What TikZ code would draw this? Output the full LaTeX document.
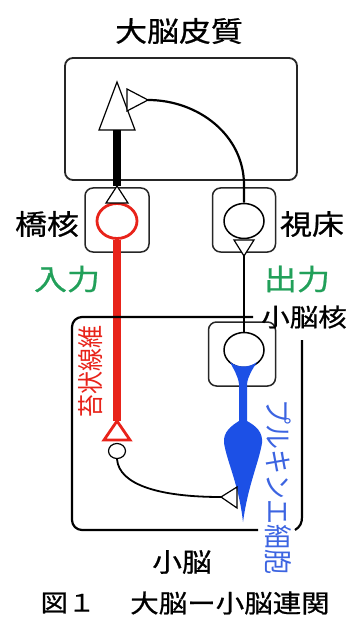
\documentclass[tikz,border=0pt]{standalone}
\usepackage{fontspec}
\setmainfont{Noto Sans CJK JP}
\newfontfamily\medfont{Noto Sans CJK JP}[FakeBold=0.7]
\usetikzlibrary{shapes.geometric}
\definecolor{fibred}{RGB}{232,35,26}
\definecolor{pcblue}{RGB}{28,80,230}
\definecolor{pctext}{RGB}{60,100,225}
\definecolor{iogreen}{RGB}{34,160,90}

\begin{document}
\begin{tikzpicture}[x=1pt,y=-1pt,line join=round]
\tikzstyle{region}=[draw=black!85,line width=1.5pt,rounded corners=8pt,inner sep=0pt]
\tikzstyle{soma}=[draw,ellipse,fill=white,minimum width=40pt,minimum height=35pt,inner sep=0pt,line width=1.5pt]
\tikzstyle{bouton}=[draw,fill=white,line width=1.2pt,line join=miter]
\tikzstyle{lbl}=[inner sep=0pt,xscale=1.14]
\useasboundingbox (0,0) rectangle (355,617);

% cerebral cortex
\node[lbl,font=\fontsize{28}{28}\medfont] (ctxlbl) at (179,31) {大脳皮質};
\node[region,line width=1.8pt,minimum width=232pt,minimum height=122pt] (ctx) at (181,119) {};
\coordinate (pyr) at (117,130);
\coordinate (ctxT) at (148,100);

% boxes round the nuclei
\node[region,minimum width=64pt,minimum height=64pt] (pnbox) at (117,220) {};
\node[region,minimum width=63pt,minimum height=64pt] (thbox) at (244,220) {};
\node[region,minimum width=67pt,minimum height=64pt] (cnbox) at (242,354) {};

% cell bodies
\node[soma,draw=fibred,line width=2.8pt] (pn) at (117,221) {};
\node[soma] (th) at (244,221) {};
\node[soma] (cn) at (244,350) {};
\node[soma,minimum width=17pt,minimum height=15pt,line width=1.2pt] (gr) at (117,451) {};
\coordinate (pnT) at (117,186);
\coordinate (thT) at (244,256);
\coordinate (mfT) at (117,421);
\coordinate (grT) at (221,497);

% cortex -> pons
\draw[line width=8pt] (pyr) -- (pnT);
\draw[bouton] (117,82) -- (135,130) -- (99,130) -- cycle;
\draw[bouton] (pnT) -- (128,203) -- (106,203) -- cycle;

% mossy fibre
\draw[fibred,line width=8pt] (pn.south) -- (mfT);
\draw[bouton,draw=fibred,line width=2.8pt] (mfT) -- (130,440) -- (104,440) -- cycle;

% thalamus -> cortex
\draw[line width=2.2pt] (th.north) -- (244,185) .. controls (244,135) and (198,100) .. (ctxT);
\draw[bouton] (ctxT) -- (127,111) -- (127,89) -- cycle;

% nucleus -> thalamus
\draw[line width=1.6pt] (thT) -- (cn.north);
\draw[bouton] (234,240) -- (254,240) -- (thT) -- cycle;

% cerebellum outline
\draw[line width=2.2pt,rounded corners=10pt] (253,317) -| (72,530) -- (258,530);
\draw[line width=2.2pt] (302,340) -- (302,517) .. controls (302,523) and (300,527) .. (295,530);

% Purkinje cell
\fill[pcblue] (257,362) .. controls (252,370) and (248,376) .. (247,384) -- (247,421)
  .. controls (256,426) and (263,432) .. (262,443) .. controls (259,462) and (248,485) .. (243,522)
  .. controls (239,485) and (227,462) .. (224,443) .. controls (223,432) and (231,426) .. (239,421)
  -- (239,384) .. controls (238,376) and (234,370) .. (230,362)
  .. controls (238,368) and (249,368) .. (257,362) -- cycle;

% granule cell -> Purkinje cell
\draw[line width=1.8pt] (gr.south) .. controls (119,485) and (160,497) .. (grT);
\draw[bouton] (grT) -- (237,487) -- (237,508) -- cycle;

% labels
\node[lbl,font=\fontsize{28}{28}\medfont] (pnlbl) at (47,224) {橋核};
\node[lbl,font=\fontsize{28}{28}\medfont] (thlbl) at (312,224) {視床};
\node[lbl,iogreen,font=\fontsize{29}{29}\medfont] (inlbl) at (67,279) {入力};
\node[lbl,iogreen,font=\fontsize{29}{29}\medfont] (outlbl) at (297,279) {出力};
\node[lbl,font=\fontsize{25}{25}\medfont] (cnlbl) at (304,317) {小脳核};
\node[lbl,fibred,rotate=90,font=\fontsize{23}{23}\selectfont] (mflbl) at (91,371) {苔状線維};
\node[lbl,pctext,rotate=-90,font=\fontsize{25}{25}\selectfont] (pclbl) at (278,487) {プルキンエ細胞};
\node[lbl,font=\fontsize{26}{26}\medfont] (cblbl) at (182,562) {小脳};
\node[lbl,font=\fontsize{24}{24}\medfont] (figno) at (68,603) {図１};
\node[lbl,font=\fontsize{25}{25}\medfont] (figttl) at (230,603) {大脳ー小脳連関};
\end{tikzpicture}
\end{document}
